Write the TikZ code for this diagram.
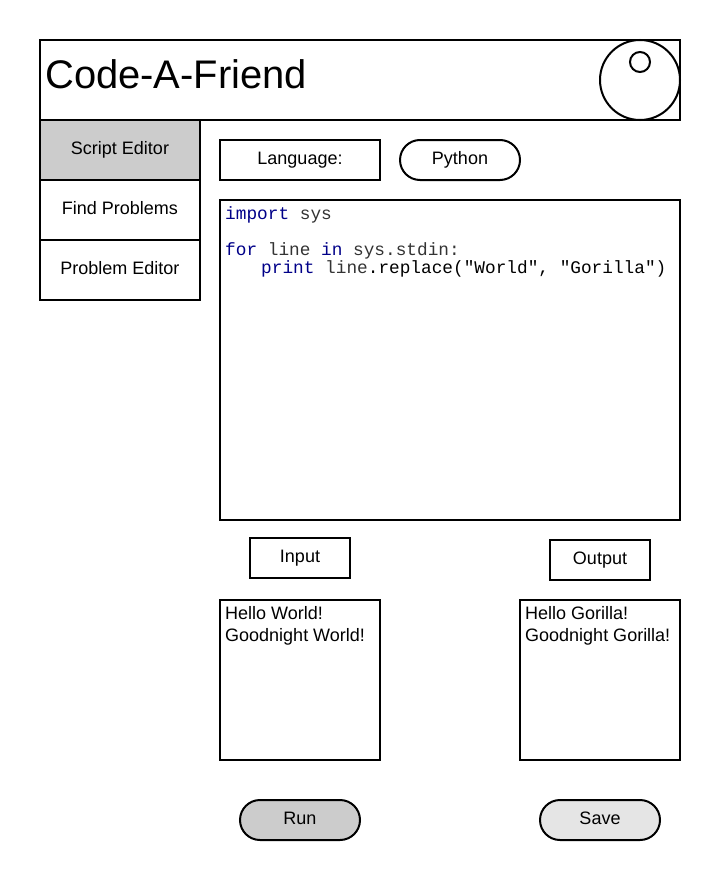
\documentclass[tikz,border=0pt]{standalone}
\usepackage{fontspec}
\setmainfont{Liberation Sans}
\setmonofont{Liberation Mono}
\usetikzlibrary{positioning}
\definecolor{kw}{RGB}{0,0,136}
\definecolor{nm}{RGB}{51,51,51}
\newcommand{\kwd}[1]{\textcolor{kw}{#1}}
\newcommand{\nam}[1]{\textcolor{nm}{#1}}
\tikzset{
  box/.style={draw,rectangle,line width=2pt,inner sep=0pt,font=\fontsize{18pt}{22pt}\selectfont,text height=12pt,text depth=3.8pt},
  tab/.style={box,minimum width=160pt,minimum height=60pt},
  tag/.style={box,minimum width=100pt,minimum height=40pt},
  pill/.style={box,rounded corners=20pt,minimum width=120pt,minimum height=40pt},
  pane/.style={draw,rectangle,line width=2pt,inner sep=0pt,minimum width=160pt,minimum height=160pt},
  panetext/.style={anchor=north west,inner sep=0pt,align=left,font=\fontsize{18pt}{22pt}\selectfont}
}
\begin{document}
\begin{tikzpicture}[x=1pt,y=-1pt,node distance=60pt]
\useasboundingbox (0,0) rectangle (720,880);
% header
\node[draw,rectangle,line width=2pt,minimum width=640pt,minimum height=80pt] (header) at (360,80) {};
\node[anchor=base west,inner sep=0pt,font=\fontsize{39.9pt}{44pt}\selectfont] (title) at (45,89) {Code-A-Friend};
\node[draw,circle,line width=2pt,minimum size=80pt,inner sep=0pt] (avatar) at (640,80) {};
\node[draw,circle,line width=2pt,minimum size=20pt,inner sep=0pt] (avatarhead) at (640,62) {};
% tabs
\node[tab,fill=black!20] (script) at (120,150) {Script Editor};
\node[tab] (find) [below of=script] {Find Problems};
\node[tab] (problem) [below of=find] {Problem Editor};
% language
\node[box,minimum width=160pt,minimum height=40pt] (language) at (300,160) {Language:};
\node[pill] (python) at (460,160) {Python};
% code
\node[draw,rectangle,line width=2pt,minimum width=460pt,minimum height=320pt] (code) at (450,360) {};
\node[anchor=north west,inner sep=0pt,align=left,font=\fontsize{17.77pt}{17.5pt}\ttfamily\selectfont] (codetext) at (225,206) {%
\kwd{import} \nam{sys}\\
\strut\\
\kwd{for} \nam{line} \kwd{in} \nam{sys.stdin:}\\
\hspace{36pt}\kwd{print} \nam{line}.replace("World", "Gorilla")};
% input and output
\node[tag] (inputtag) at (300,558) {Input};
\node[tag] (outputtag) at (600,560) {Output};
\node[pane] (inputpane) at (300,680) {};
\node[pane] (outputpane) at (600,680) {};
\node[panetext] (inputtext) at (225,606) {Hello World!\\Goodnight World!};
\node[panetext] (outputtext) at (525,606) {Hello Gorilla!\\Goodnight Gorilla!};
% buttons
\node[pill,fill=black!20] (run) at (300,820) {Run};
\node[pill,fill=black!10] (save) at (600,820) {Save};
\end{tikzpicture}
\end{document}
